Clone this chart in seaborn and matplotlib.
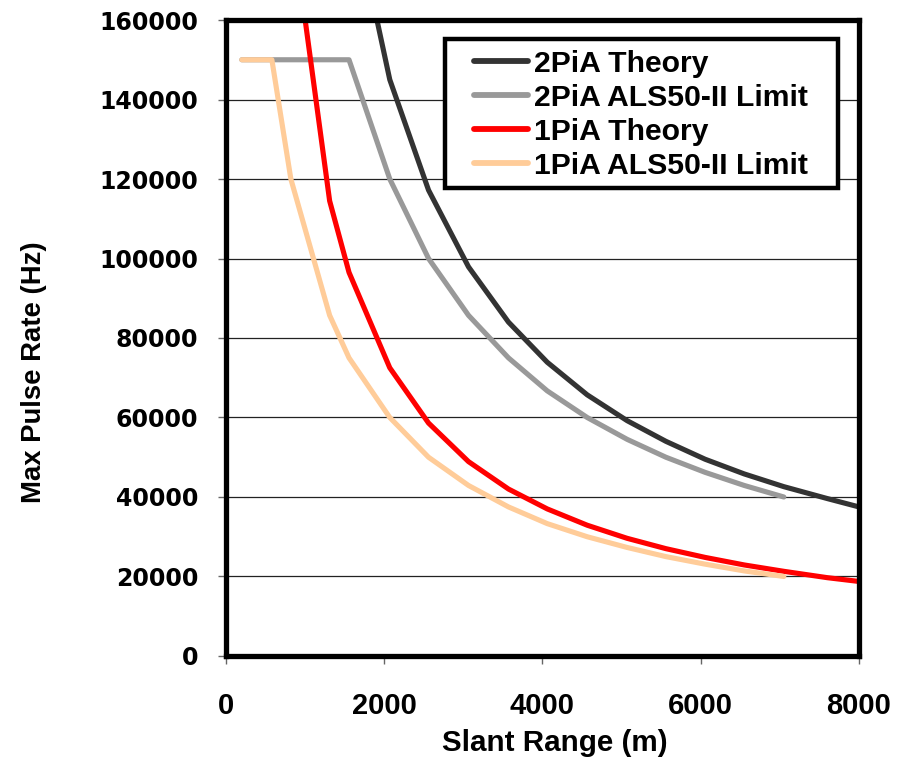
import matplotlib
matplotlib.use("Agg")
import matplotlib.pyplot as plt
import seaborn as sns
import pandas as pd
from matplotlib.patches import Rectangle

# ---------------- data ----------------
theory2_x = [1800, 2070, 2560, 3065, 3570, 4060, 4565, 5070, 5560, 6055, 6550, 7050, 7600, 8000]
theory2_y = [170000, 145000, 117200, 97900, 84000, 73900, 65700, 59200, 54000, 49500, 45800, 42600, 39600, 37500]

limit2_x = [200, 580, 820, 1310, 1555, 2070, 2560, 3065, 3570, 4060, 4565, 5070, 5560, 6055, 6550, 7050]
limit2_y = [150000, 150000, 150000, 150000, 150000, 120000, 100000, 85700, 75000, 66700, 60000, 54500, 50000, 46200, 42900, 40000]

theory1_x = [960, 1310, 1555, 2070, 2560, 3065, 3570, 4060, 4565, 5070, 5560, 6055, 6550, 7050, 7600, 8000]
theory1_y = [166000, 114500, 96500, 72500, 58600, 48900, 42000, 37000, 32900, 29600, 27000, 24800, 22900, 21300, 19700, 18750]

limit1_x = [200, 580, 820, 1310, 1555, 2070, 2560, 3065, 3570, 4060, 4565, 5070, 5560, 6055, 6550, 7050]
limit1_y = [150000, 150000, 120000, 85700, 75000, 60000, 50000, 42900, 37500, 33300, 30000, 27300, 25000, 23100, 21400, 20000]

series_names = ["2PiA Theory", "2PiA ALS50-II Limit", "1PiA Theory", "1PiA ALS50-II Limit"]
series_colors = ["#333333", "#999999", "#FF0000", "#FFCC99"]

x_ticks = [0, 2000, 4000, 6000, 8000]
y_ticks = [0, 20000, 40000, 60000, 80000, 100000, 120000, 140000, 160000]

# ---------------- style ----------------
sns.set_theme(style="white")
plt.rcParams["font.family"] = ["Liberation Sans", "DejaVu Sans"]
plt.rcParams["text.color"] = "black"
plt.rcParams["axes.labelcolor"] = "black"

fig = plt.figure(figsize=(9.09, 7.61), dpi=100)
ax = fig.add_axes([0.2486, 0.138, 0.6964, 0.8357])

data = [(theory2_x, theory2_y), (limit2_x, limit2_y), (theory1_x, theory1_y), (limit1_x, limit1_y)]
frames = []
for name, (xs, ys) in zip(series_names, data):
    frames.append(pd.DataFrame({"x": xs, "y": ys, "series": name}))
df = pd.concat(frames, ignore_index=True)

for i, (name, col) in enumerate(zip(series_names, series_colors)):
    sub = df[df["series"] == name]
    sns.lineplot(data=sub, x="x", y="y", ax=ax, color=col, lw=3.7, sort=False,
                 estimator=None, label=name, zorder=3 + i,
                 solid_capstyle="round", solid_joinstyle="round")

ax.set_xlim(0, 8000)
ax.set_ylim(0, 160000)
ax.set_xticks(x_ticks)
ax.set_yticks(y_ticks)
ax.set_xticklabels([str(v) for v in x_ticks], fontfamily="Liberation Sans",
                   fontweight="bold", fontsize=21, color="black")
ax.set_yticklabels([str(v) for v in y_ticks], fontfamily="DejaVu Sans",
                   fontweight="bold", fontsize=17, color="black")

# gridlines
ax.yaxis.grid(True, color="#222222", lw=0.9, zorder=1)
ax.xaxis.grid(False)
ax.set_axisbelow(True)

for s in ax.spines.values():
    s.set_visible(True)
    s.set_color("black")
    s.set_linewidth(3.8)
    s.set_zorder(10)

ax.tick_params(axis="x", which="major", direction="out", length=6, width=1,
               color="#666666", labelcolor="black", pad=20, bottom=True)
ax.tick_params(axis="y", which="major", direction="out", length=6, width=1,
               color="#666666", labelcolor="black", pad=14, left=True)

ax.set_xlabel("Slant Range (m)", fontfamily="Liberation Sans", fontweight="bold",
              fontsize=21.3, color="black")
ax.set_ylabel("Max Pulse Rate (Hz)", fontfamily="Liberation Sans", fontweight="bold",
              fontsize=19.8, color="black")
ax.xaxis.set_label_coords(0.52, -0.115)
ax.yaxis.set_label_coords(-0.283, 0.447)

# legend box
rect = Rectangle((0.346, 0.736), 0.621, 0.234, transform=ax.transAxes,
                 facecolor="white", edgecolor="black", lw=3.2, zorder=20)
ax.add_patch(rect)
leg = ax.legend(loc="upper left", bbox_to_anchor=(0.392, 0.953), frameon=False,
                prop={"family": "Liberation Sans", "weight": "bold", "size": 21.7},
                handlelength=1.8, handletextpad=0.2, labelspacing=0.2,
                borderpad=0, borderaxespad=0)
leg.set_zorder(21)
for t in leg.get_texts():
    t.set_color("black")
for h in leg.get_lines():
    h.set_linewidth(4.2)
    h.set_solid_capstyle("round")

fig.savefig("out.png", dpi=100)
